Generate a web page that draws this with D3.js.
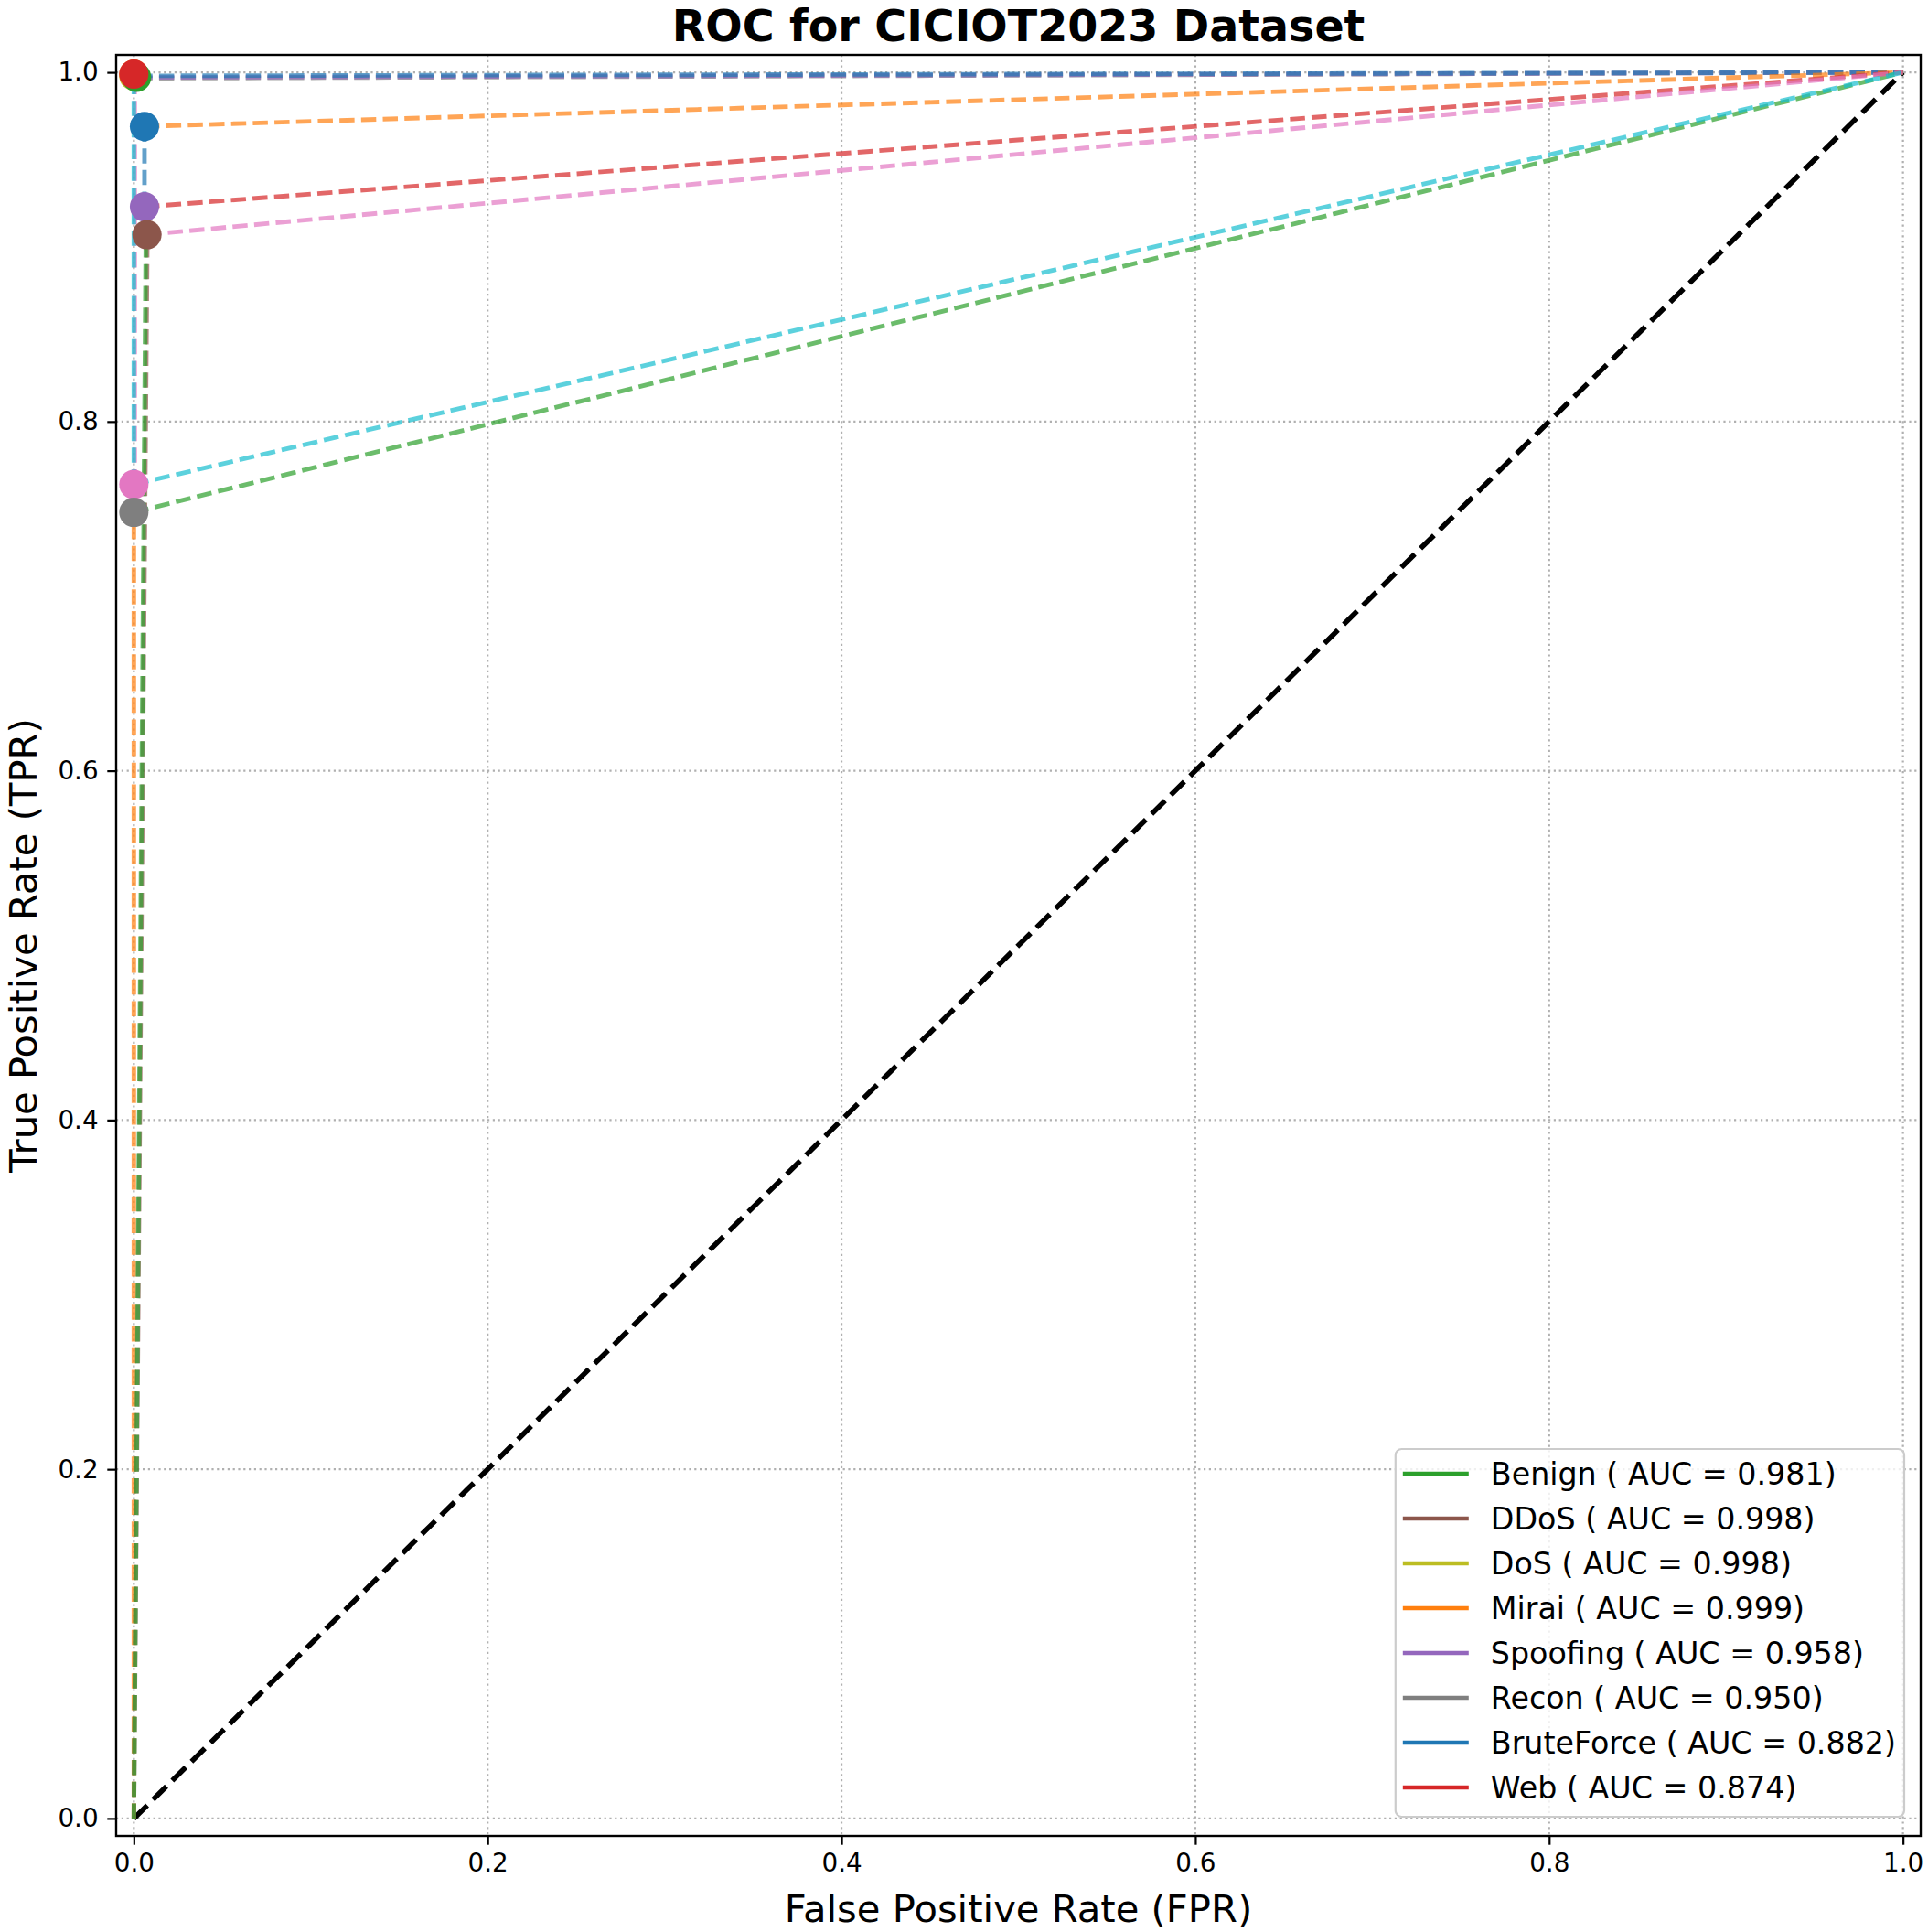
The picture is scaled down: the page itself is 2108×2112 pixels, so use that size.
<!DOCTYPE html>
<meta charset='utf-8'>
<style>
body { margin: 0; background: #fff; }
svg { display: block; }
text { font-family: 'DejaVu Sans', sans-serif; fill: #000; }
</style>
<svg id='chart' width='2108' height='2112'></svg>
<script src="https://d3js.org/d3.v7.min.js"></script>
<script>
// tick labels
const xTicks = [0, 0.2, 0.4, 0.6, 0.8, 1.0];
const yTicks = [0, 0.2, 0.4, 0.6, 0.8, 1.0];

// legend entries (class, AUC, colour of the marker)
const legendLabels = ['Benign', 'DDoS', 'DoS', 'Mirai', 'Spoofing', 'Recon', 'BruteForce', 'Web'];
const legendAuc = [0.981, 0.998, 0.998, 0.999, 0.958, 0.950, 0.882, 0.874];
const legendColors = ['#2ca02c', '#8c564b', '#bcbd22', '#ff7f0e', '#9467bd', '#7f7f7f', '#1f77b4', '#d62728'];

// dashed roc curves, [fpr, tpr] points, null = break in the line
const curveColors = ['#7f7f7f', '#9467bd', '#1f77b4', '#ff7f0e', '#8c564b', '#2ca02c', '#d62728', '#e377c2', '#17becf'];
const curvePoints = [
  [[0.002, 0.9966], [1, 1]],
  [[0.002, 0.9971], [1, 1]],
  [[0.006, 0.923], [0.006, 0.969], null, [0.002, 0.998], [1, 1]],
  [[0, 0], [0, 0.764], null, [0.006, 0.969], [1, 1]],
  [[0, 0], [0.0076, 0.905]],
  [[0, 0], [0.0068, 0.907], null, [0, 0.748], [1, 1]],
  [[0.006, 0.923], [1, 1]],
  [[0.0005, 0.764], [0.0005, 0.998], null, [0.007, 0.907], [1, 1]],
  [[0, 0.764], [0, 0.998], null, [0, 0.764], [1, 1]]
];

// operating points (markers)
const dotFpr = [0, 0, 0, 0, 0.0015, 0.006, 0.0074, 0.006, 0];
const dotTpr = [0.764, 0.748, 0.998, 0.999, 0.9972, 0.923, 0.907, 0.969, 0.999];
const dotColors = ['#e377c2', '#7f7f7f', '#bcbd22', '#ff7f0e', '#2ca02c', '#9467bd', '#8c564b', '#1f77b4', '#d62728'];

const svg = d3.select('#chart');

const pL = 127, pR = 2100, pT = 60, pB = 2007;
const x = d3.scaleLinear().domain([-0.01, 1.01]).range([pL, pR]);
const y = d3.scaleLinear().domain([-0.01, 1.01]).range([pB, pT]);

svg.append('defs').append('clipPath')
  .attr('id', 'plotclip')
  .append('rect')
  .attr('x', pL).attr('y', pT)
  .attr('width', pR - pL).attr('height', pB - pT);

// grid
const gGrid = svg.append('g')
  .attr('stroke', '#b0b0b0')
  .attr('stroke-width', 2.2)
  .attr('stroke-dasharray', '2.2,3.6');

gGrid.selectAll('line.vx')
  .data(xTicks)
  .join('line')
  .attr('class', 'vx')
  .attr('x1', d => x(d)).attr('x2', d => x(d))
  .attr('y1', pT).attr('y2', pB);

gGrid.selectAll('line.hy')
  .data(yTicks)
  .join('line')
  .attr('class', 'hy')
  .attr('y1', d => y(d)).attr('y2', d => y(d))
  .attr('x1', pL).attr('x2', pR);

const plot = svg.append('g').attr('clip-path', 'url(#plotclip)');

// chance line
plot.append('path')
  .attr('d', d3.line().x(d => x(d[0])).y(d => y(d[1]))([[0, 0], [1, 1]]))
  .attr('fill', 'none')
  .attr('stroke', '#000')
  .attr('stroke-width', 5.6)
  .attr('stroke-dasharray', '20.6,8.9');

const line = d3.line()
  .defined(d => d !== null)
  .x(d => x(d[0]))
  .y(d => y(d[1]));

plot.selectAll('path.roc')
  .data(curvePoints)
  .join('path')
  .attr('class', 'roc')
  .attr('d', d => line(d))
  .attr('fill', 'none')
  .attr('stroke', (d, i) => curveColors[i])
  .attr('stroke-opacity', 0.7)
  .attr('stroke-width', 4.9)
  .attr('stroke-dasharray', '16.5,7.2');

plot.selectAll('circle.pt')
  .data(dotFpr)
  .join('circle')
  .attr('class', 'pt')
  .attr('cx', d => x(d))
  .attr('cy', (d, i) => y(dotTpr[i]))
  .attr('r', 16)
  .attr('fill', (d, i) => dotColors[i]);

// frame
svg.append('rect')
  .attr('x', pL).attr('y', pT)
  .attr('width', pR - pL).attr('height', pB - pT)
  .attr('fill', 'none')
  .attr('stroke', '#000')
  .attr('stroke-width', 2.4);

const fmt = d3.format('.1f');

const xAxis = svg.append('g')
  .attr('transform', `translate(0,${pB})`)
  .call(d3.axisBottom(x).tickValues(xTicks).tickFormat(fmt).tickSize(9.7).tickPadding(9.7));

const yAxis = svg.append('g')
  .attr('transform', `translate(${pL},0)`)
  .call(d3.axisLeft(y).tickValues(yTicks).tickFormat(fmt).tickSize(9.7).tickPadding(9.7));

[xAxis, yAxis].forEach(a => {
  a.select('.domain').remove();
  a.selectAll('.tick line').attr('stroke', '#000').attr('stroke-width', 2.2);
  a.selectAll('.tick text')
    .attr('fill', '#000')
    .style('font-family', "'DejaVu Sans', sans-serif")
    .style('font-size', '27.8px');
});

// titles
svg.append('text')
  .attr('x', (pL + pR) / 2)
  .attr('y', 45)
  .attr('text-anchor', 'middle')
  .style('font-size', '47.5px')
  .style('font-weight', 'bold')
  .text('ROC for CICIOT2023 Dataset');

svg.append('text')
  .attr('x', (pL + pR) / 2)
  .attr('y', 2101)
  .attr('text-anchor', 'middle')
  .style('font-size', '41.7px')
  .text('False Positive Rate (FPR)');

svg.append('text')
  .attr('transform', `translate(40,${(pT + pB) / 2}) rotate(-90)`)
  .attr('text-anchor', 'middle')
  .style('font-size', '41.7px')
  .text('True Positive Rate (TPR)');

// legend
const rowH = 49;
const legRight = pR - 18, legBottom = 1986;
const legTop = legBottom - 402;
const gLeg = svg.append('g');
const legBox = gLeg.append('rect')
  .attr('y', legTop)
  .attr('height', legBottom - legTop)
  .attr('rx', 6.7)
  .attr('fill', '#fff')
  .attr('fill-opacity', 0.8)
  .attr('stroke', '#cccccc')
  .attr('stroke-width', 2.2);

const rows = gLeg.selectAll('g.row')
  .data(legendLabels)
  .join('g')
  .attr('class', 'row')
  .attr('transform', (d, i) => `translate(0,${legTop + 27 + i * rowH})`);

const labels = rows.append('text')
  .attr('y', 12)
  .style('font-size', '33.3px')
  .text((d, i) => `${d} ( AUC = ${legendAuc[i].toFixed(3)})`);

let maxW = 0;
labels.each(function() { maxW = Math.max(maxW, this.getComputedTextLength()); });
const legLeft = legRight - (maxW + 113);
legBox.attr('x', legLeft).attr('width', legRight - legLeft);
labels.attr('x', legLeft + 104);

rows.append('line')
  .attr('x1', legLeft + 8).attr('x2', legLeft + 8 + 72)
  .attr('y1', 0).attr('y2', 0)
  .attr('stroke', (d, i) => legendColors[i])
  .attr('stroke-width', 4.4);
</script>
